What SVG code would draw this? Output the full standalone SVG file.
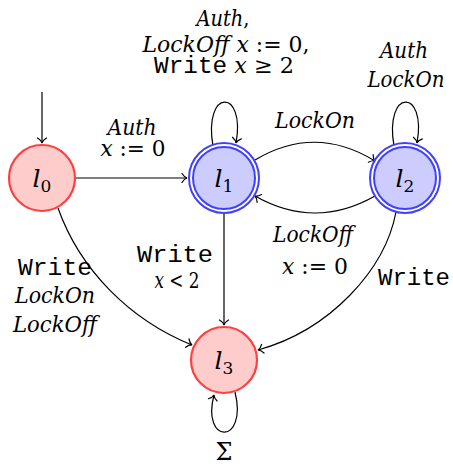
<svg xmlns="http://www.w3.org/2000/svg" width="453" height="466" viewBox="0 0 453 466">
<defs>
<marker id="arr" markerUnits="userSpaceOnUse" markerWidth="14" markerHeight="14" viewBox="-7 -7 14 14" refX="0" refY="0" orient="auto">
<path d="M -5 -4.5 C -3.2 -1.6, -1.2 -0.3, 0 0 C -1.2 0.3, -3.2 1.6, -5 4.5" fill="none" stroke="#000" stroke-width="1.2" stroke-linecap="round"/>
</marker>
<style>
.e{fill:none;stroke:#000;stroke-width:1.2;marker-end:url(#arr)}
.red{fill:#ffcccc;stroke:#ff4040;stroke-width:2.2}
.blue{fill:#ccccff;stroke:#4040ff;stroke-width:6}
.gap{fill:none;stroke:#fff;stroke-width:2}
</style>
</defs>
<g id="connectors">
<path class="e" d="M 42 92 L 42 143"/>
<path class="e" d="M 76 178 L 187 178"/>
<path class="e" d="M 213 146 C 203 88, 246 88, 236 143"/>
<path class="e" d="M 394 146 C 384 88, 427 88, 417 143"/>
<path class="e" d="M 235 392 C 248 445, 201 445, 214 395"/>
<path class="e" d="M 255 160 Q 315 124 375 161"/>
<path class="e" d="M 375 196 Q 315 230 255 196"/>
<path class="e" d="M 224 214 L 224 325"/>
<path class="e" d="M 58 208 C 80 270, 130 320, 192 345"/>
<path class="e" d="M 396 212 C 385 270, 330 330, 258 350"/>
</g>
<g id="l0">
<circle class="red" cx="42" cy="178" r="33"/>
<text x="42" y="187" font-family="DejaVu Serif" style="font-size:25px;text-anchor:middle"><tspan font-style="italic">l</tspan><tspan style="font-size:17px" dy="5">0</tspan></text>
</g>
<g id="l1">
<circle class="blue" cx="224" cy="178" r="33"/>
<circle class="gap" cx="224" cy="178" r="33"/>
<text x="224" y="187" font-family="DejaVu Serif" style="font-size:25px;text-anchor:middle"><tspan font-style="italic">l</tspan><tspan style="font-size:17px" dy="5">1</tspan></text>
</g>
<g id="l2">
<circle class="blue" cx="405" cy="178" r="33"/>
<circle class="gap" cx="405" cy="178" r="33"/>
<text x="405" y="187" font-family="DejaVu Serif" style="font-size:25px;text-anchor:middle"><tspan font-style="italic">l</tspan><tspan style="font-size:17px" dy="5">2</tspan></text>
</g>
<g id="l3">
<circle class="red" cx="224" cy="360" r="33"/>
<text x="224" y="369" font-family="DejaVu Serif" style="font-size:25px;text-anchor:middle"><tspan font-style="italic">l</tspan><tspan style="font-size:17px" dy="5">3</tspan></text>
</g>
<g id="labels">
<text x="223" y="26" font-family="DejaVu Serif" style="font-size:22px;text-anchor:middle" textLength="53" lengthAdjust="spacingAndGlyphs"><tspan font-style="italic">Auth</tspan>,</text>
<text x="226" y="52" font-family="DejaVu Serif" style="font-size:22px;text-anchor:middle" textLength="167" lengthAdjust="spacingAndGlyphs"><tspan font-style="italic">LockOff</tspan> <tspan font-style="italic">x</tspan> := 0,</text>
<text x="224" y="73" font-family="DejaVu Serif" style="font-size:22px;text-anchor:middle" textLength="140" lengthAdjust="spacingAndGlyphs"><tspan font-family="Liberation Mono" style="font-size:24px">Write</tspan> <tspan font-style="italic">x</tspan> ≥ 2</text>
<text x="404" y="58" font-family="DejaVu Serif" font-style="italic" style="font-size:22px;text-anchor:middle" textLength="48" lengthAdjust="spacingAndGlyphs">Auth</text>
<text x="406" y="87" font-family="DejaVu Serif" font-style="italic" style="font-size:22px;text-anchor:middle" textLength="77" lengthAdjust="spacingAndGlyphs">LockOn</text>
<text x="132" y="135" font-family="DejaVu Serif" font-style="italic" style="font-size:22px;text-anchor:middle" textLength="49" lengthAdjust="spacingAndGlyphs">Auth</text>
<text x="133" y="156" font-family="DejaVu Serif" style="font-size:22px;text-anchor:middle" textLength="65" lengthAdjust="spacingAndGlyphs"><tspan font-style="italic">x</tspan> := 0</text>
<text x="315" y="128" font-family="DejaVu Serif" font-style="italic" style="font-size:22px;text-anchor:middle" textLength="80" lengthAdjust="spacingAndGlyphs">LockOn</text>
<text x="313" y="242" font-family="DejaVu Serif" font-style="italic" style="font-size:22px;text-anchor:middle" textLength="80" lengthAdjust="spacingAndGlyphs">LockOff</text>
<text x="315" y="274" font-family="DejaVu Serif" style="font-size:22px;text-anchor:middle" textLength="66" lengthAdjust="spacingAndGlyphs"><tspan font-style="italic">x</tspan> := 0</text>
<text x="175" y="262" font-family="Liberation Mono" style="font-size:24px;text-anchor:middle" textLength="76" lengthAdjust="spacingAndGlyphs">Write</text>
<text x="177" y="288" font-family="DejaVu Serif" style="font-size:22px;text-anchor:middle" textLength="45" lengthAdjust="spacingAndGlyphs"><tspan font-style="italic">x</tspan> &lt; 2</text>
<text x="414" y="285" font-family="Liberation Mono" style="font-size:24px;text-anchor:middle" textLength="72" lengthAdjust="spacingAndGlyphs">Write</text>
<text x="55" y="275" font-family="Liberation Mono" style="font-size:24px;text-anchor:middle" textLength="74" lengthAdjust="spacingAndGlyphs">Write</text>
<text x="55" y="303" font-family="DejaVu Serif" font-style="italic" style="font-size:22px;text-anchor:middle" textLength="80" lengthAdjust="spacingAndGlyphs">LockOn</text>
<text x="55" y="332" font-family="DejaVu Serif" font-style="italic" style="font-size:22px;text-anchor:middle" textLength="84" lengthAdjust="spacingAndGlyphs">LockOff</text>
<text x="224" y="460" font-family="DejaVu Serif" style="font-size:24px;text-anchor:middle">Σ</text>
</g>
</svg>
